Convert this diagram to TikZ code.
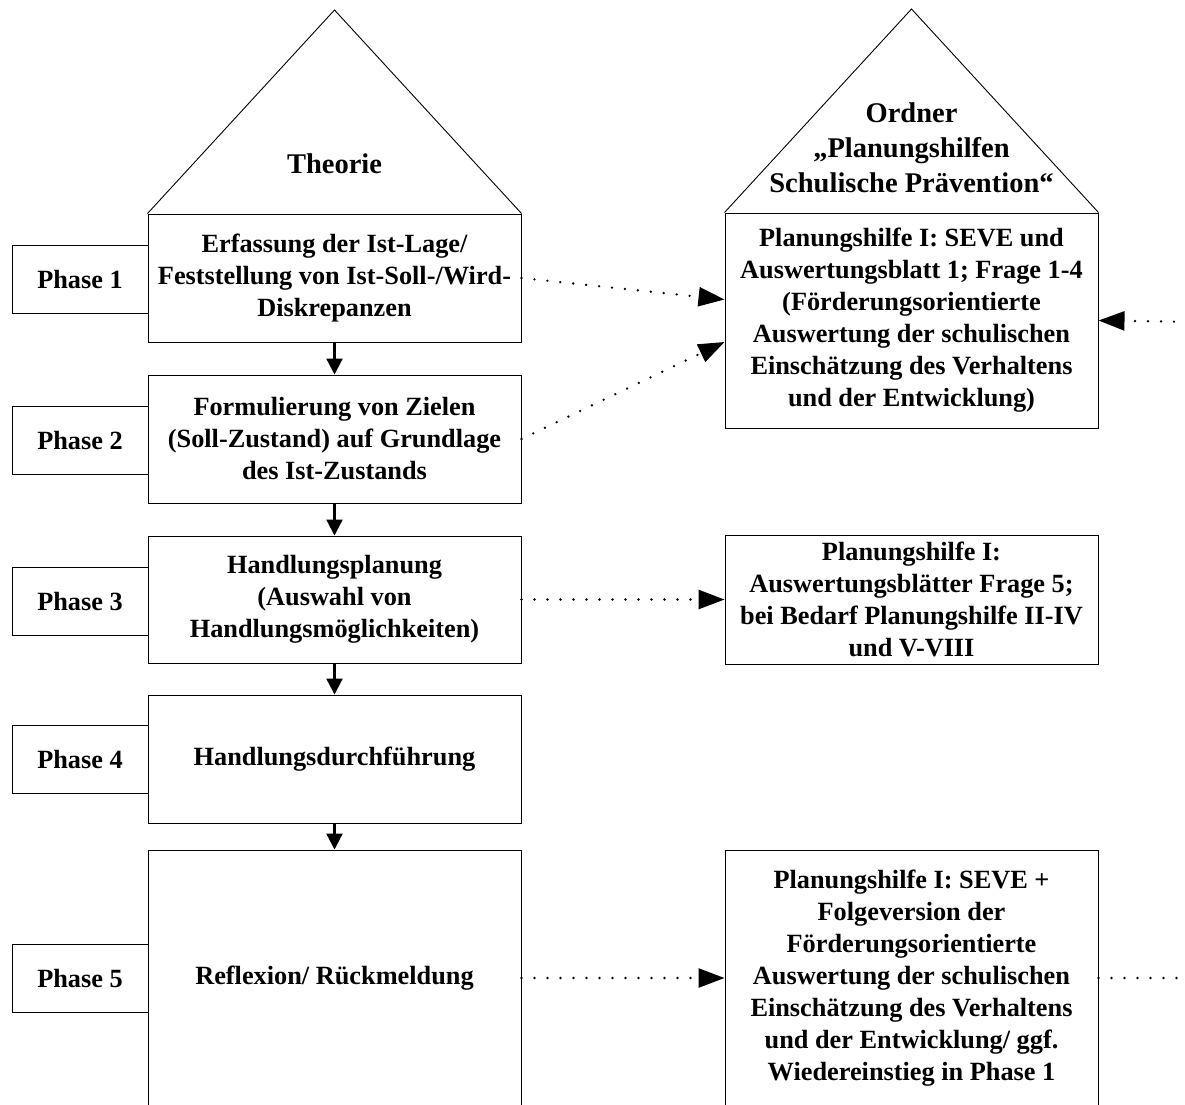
\documentclass[tikz,border=0pt]{standalone}
\usepackage{fontspec}
\setmainfont{Liberation Serif}
\usetikzlibrary{arrows.meta,calc}
\begin{document}
\begin{tikzpicture}[x=1pt,y=-1pt,
  every node/.style={font=\fontsize{26.3}{32}\selectfont\bfseries, align=center, inner sep=0pt},
  rooftext/.style={font=\fontsize{28.5}{35}\selectfont\bfseries},
  mainbox/.style={draw, line width=1pt, minimum width=373pt},
  phasebox/.style={draw, line width=1pt, minimum width=136pt, minimum height=68pt},
  sidebox/.style={draw, line width=1pt, minimum width=373pt},
  roof/.style={draw, line width=0.9pt, line join=miter},
  flow/.style={line width=2.3pt, -{Triangle[length=16pt,width=16pt]}},
  link/.style={line width=2.6pt, line cap=round, dash pattern=on 0pt off 13pt},
  linkarrow/.style={link, -{Triangle[length=26pt,width=19pt]}}
]
\path[use as bounding box] (0,0) rectangle (1185,1104);
\clip (0,0) rectangle (1185,1104);

% main process column
\node[mainbox, minimum height=128pt] (b1) at (334.5,278) {Erfassung der Ist-Lage/\\Feststellung von Ist-Soll-/Wird-\\Diskrepanzen};
\node[mainbox, minimum height=128pt] (b2) at (334.5,439) {Formulierung von Zielen\\(Soll-Zustand) auf Grundlage\\des Ist-Zustands};
\node[mainbox, minimum height=127pt] (b3) at (334.5,599.5) {Handlungsplanung\\(Auswahl von\\Handlungsmöglichkeiten)};
\node[mainbox, minimum height=128pt] (b4) at (334.5,759) {Handlungsdurchführung};
\node[mainbox, minimum height=256pt] (b5) at (334.5,978) {Reflexion/ Rückmeldung};

% phase labels
\node[phasebox] (p1) at (80,279.5) {Phase 1};
\node[phasebox] (p2) at (80,440) {Phase 2};
\node[phasebox] (p3) at (80,601) {Phase 3};
\node[phasebox] (p4) at (80,759.5) {Phase 4};
\node[phasebox] (p5) at (80,978) {Phase 5};

% roof of the theory column
\coordinate (apexL) at (334.5,10);
\draw[roof] (b1.north west) -- (apexL) -- (b1.north east);
\node[rooftext] (theorie) at (334.5,164) {Theorie};

% planning aids column
\node[sidebox, minimum height=215pt] (r1) at (911.5,320.5) {Planungshilfe I: SEVE und\\Auswertungsblatt 1; Frage 1-4\\(Förderungsorientierte\\Auswertung der schulischen\\Einschätzung des Verhaltens\\und der Entwicklung)};
\node[sidebox, minimum height=129pt] (r2) at (911.5,599.5) {Planungshilfe I:\\Auswertungsblätter Frage 5;\\bei Bedarf Planungshilfe II-IV\\und V-VIII};
\node[sidebox, minimum height=256pt] (r3) at (911.5,978) {Planungshilfe I: SEVE +\\Folgeversion der\\Förderungsorientierte\\Auswertung der schulischen\\Einschätzung des Verhaltens\\und der Entwicklung/ ggf.\\Wiedereinstieg in Phase 1};

\coordinate (apexR) at (911.5,9);
\draw[roof] (r1.north west) -- (apexR) -- (r1.north east);
\node[rooftext] (ordner) at (911.5,148) {Ordner\\„Planungshilfen\\Schulische Prävention“};

% process flow
\draw[flow] (b1) -- (b2);
\draw[flow] (b2) -- (b3);
\draw[flow] (b3) -- (b4);
\draw[flow] (b4) -- (b5);

% links to the planning aids
\draw[linkarrow] (b1.east) -- ([yshift=21pt]r1.west);
\draw[linkarrow] (b2.east) -- ([yshift=-21.5pt]r1.west);
\draw[linkarrow] (b3.east) -- (r2.west);
\draw[linkarrow] (b5.east) -- (r3.west);

\coordinate (backIn) at (1200,322);
\coordinate (backOut) at (1200,978);
\draw[linkarrow] (backIn) -- (r1.east);
\draw[link] (r3.east) -- (backOut);
\end{tikzpicture}
\end{document}
